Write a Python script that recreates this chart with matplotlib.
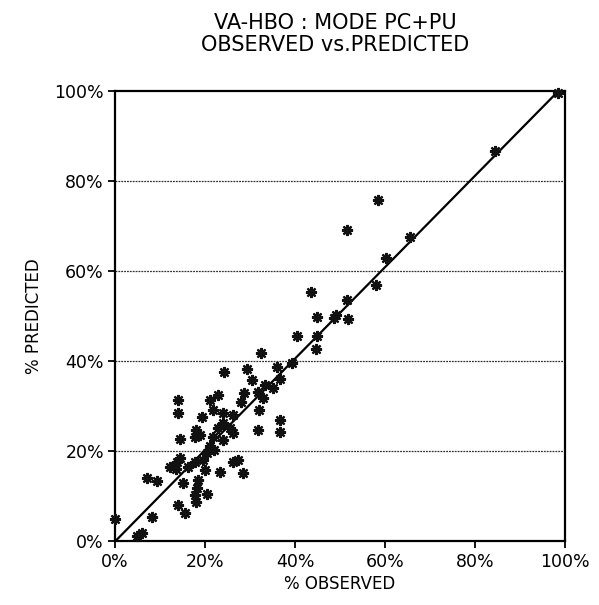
import matplotlib
matplotlib.use('Agg')
import matplotlib.pyplot as plt
from matplotlib.ticker import FuncFormatter

observado = [98.5, 84.5, 58.5, 51.5, 65.6, 60.2, 58.0, 43.5, 51.5, 44.8,
             49.1, 48.7, 51.9, 40.4, 44.8, 44.7, 32.4, 39.3, 35.9, 29.3,
             24.3, 30.5, 36.7, 33.4, 35.2, 31.8, 28.7, 33.0, 21.1, 22.8,
             13.9, 13.9, 31.9, 28.1, 26.3, 21.8, 19.3, 36.7, 36.7, 31.7,
             24.1, 25.6, 26.3, 23.0, 18.1, 17.8, 18.9, 14.4, 21.8, 24.1,
             21.1, 20.4, 19.6, 14.4, 13.7, 12.2, 13.6, 17.8, 16.3, 26.3,
             27.4, 23.4, 28.4, 20.0, 7.1, 9.3, 15.2, 18.5, 18.3, 20.4,
             17.8, 18.1, 14.1, 15.6, 8.2, 0.0, 4.8, 5.9, 24.1, 22.0]
predicho = [99.7, 86.8, 75.9, 69.1, 67.7, 62.9, 57.0, 55.5, 53.7, 49.9,
            50.4, 49.6, 49.4, 45.7, 45.7, 42.7, 41.9, 39.6, 38.7, 38.3,
            37.7, 35.9, 36.0, 34.7, 34.0, 33.3, 32.9, 31.8, 31.4, 32.5,
            31.4, 28.6, 29.3, 30.9, 28.1, 29.2, 27.7, 27.0, 24.3, 24.8,
            26.3, 25.2, 24.0, 25.2, 24.8, 23.3, 23.7, 22.7, 23.3, 22.6,
            21.1, 19.6, 18.1, 18.5, 17.7, 16.6, 16.0, 17.7, 16.6, 17.7,
            18.1, 15.5, 15.3, 15.9, 14.0, 13.5, 13.1, 13.7, 11.8, 10.5,
            10.3, 8.8, 8.1, 6.4, 5.5, 4.9, 1.3, 1.8, 28.5, 20.3]

# Recta de referencia dibujada en el original
recta_x = [0, 98.5]
recta_y = [0, 100]

ticks = [0, 20, 40, 60, 80, 100]
rejilla = [20, 40, 60, 80]

fig = plt.figure(figsize=(5.99, 6.05), dpi=100)
ax = fig.add_axes([0.192, 0.105, 0.751, 0.744])

for y in rejilla:
    ax.axhline(y, color='#333333', linestyle=(0, (1.5, 0.8)), linewidth=0.9, zorder=1)

ax.plot(recta_x, recta_y, color='black', linewidth=1.6, zorder=2)
ax.plot(observado, predicho, linestyle='none', marker=(8, 2, 0),
        markersize=8, markeredgewidth=1.6, color='#111111', zorder=3, clip_on=False)
ax.plot(observado, predicho, linestyle='none', marker='s',
        markersize=3.2, color='#111111', zorder=3, clip_on=False)

ax.set_xlim(0, 100)
ax.set_ylim(0, 100)
ax.set_xticks(ticks)
ax.set_yticks(ticks)
fmt = FuncFormatter(lambda v, p: f'{int(v)}%')
ax.xaxis.set_major_formatter(fmt)
ax.yaxis.set_major_formatter(fmt)
ax.tick_params(direction='out', length=5, width=1.3, labelsize=12.5, pad=3)

for s in ax.spines.values():
    s.set_linewidth(1.6)

ax.set_xlabel('% OBSERVED', fontsize=12, labelpad=3)
ax.set_ylabel('% PREDICTED', fontsize=12, labelpad=8)
fig.text(0.56, 0.962, 'VA-HBO : MODE PC+PU', ha='center', va='center', fontsize=15)
fig.text(0.56, 0.925, 'OBSERVED vs.PREDICTED', ha='center', va='center', fontsize=15)

plt.savefig('out.png', dpi=100)
